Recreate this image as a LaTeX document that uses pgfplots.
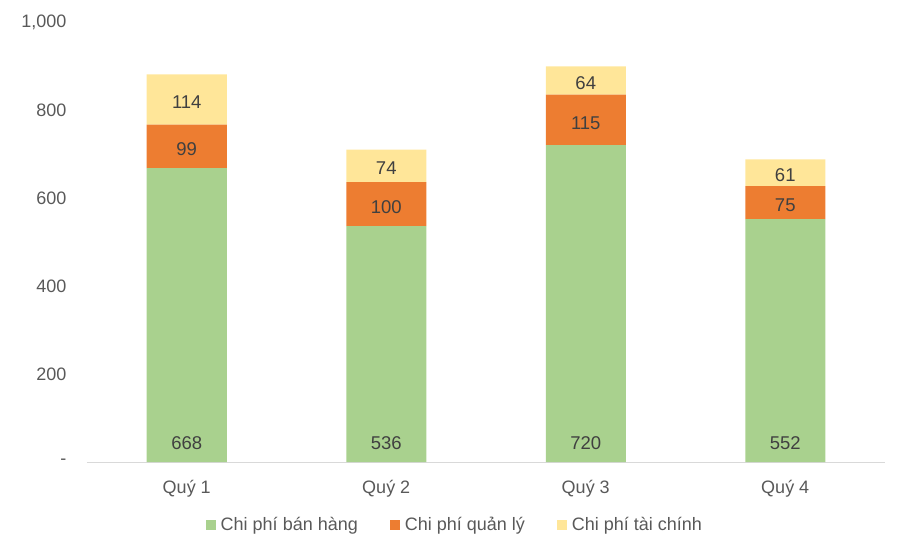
\documentclass[border=0pt]{standalone}
\usepackage{fontspec}
\setmainfont{Liberation Sans}
\usepackage{pgfplots}
\pgfplotsset{compat=1.18}
\definecolor{cgreen}{HTML}{A9D18E}
\definecolor{corange}{HTML}{ED7D31}
\definecolor{cyellow}{HTML}{FFE699}
\definecolor{ctick}{HTML}{595959}
\definecolor{clabel}{HTML}{404040}
\definecolor{caxis}{HTML}{D9D9D9}
\pgfplotsset{
  common/.style={
    at={(87pt,93pt)}, anchor=south west,
    width=798pt, height=440pt, scale only axis,
    xmin=-0.5, xmax=3.5, ymin=0, ymax=1000,
  }
}
\begin{document}
\begin{tikzpicture}
\useasboundingbox (0,0) rectangle (906pt,555pt);
\begin{axis}[
  common,
  ybar stacked, bar width=80pt,
  xtick={0,1,2,3}, xticklabels={Quý 1,Quý 2,Quý 3,Quý 4},
  ytick={0,200,400,600,800,1000}, yticklabels={-,200,400,600,800,{1,000}},
  axis x line*=bottom, axis y line*=left,
  x axis line style={draw=caxis, line width=1pt, -},
  y axis line style={draw=none},
  major tick length=0pt,
  tick style={draw=none},
  ticklabel style={font=\fontsize{18}{21.6}\selectfont, text=ctick},
  xticklabel style={yshift=-15pt},
  yticklabel style={xshift=-17pt},
  legend columns=3,
  legend cell align=left,
  legend style={at={(0.461,-0.143)}, anchor=center, draw=none, fill=none,
    font=\fontsize{18}{21.6}\selectfont, text=ctick,
    /tikz/every odd column/.append style={column sep=3pt},
    /tikz/every even column/.append style={column sep=30pt}},
  legend image code/.code={\fill[#1] (0pt,-5pt) rectangle (10pt,5pt);},
]
\addplot[fill=cgreen, draw=none] coordinates {(0,668) (1,536) (2,720) (3,552)};
\addplot[fill=corange, draw=none] coordinates {(0,99) (1,100) (2,115) (3,75)};
\addplot[fill=cyellow, draw=none] coordinates {(0,114) (1,74) (2,64) (3,61)};
\legend{Chi phí bán hàng, Chi phí quản lý, Chi phí tài chính}
\end{axis}
\begin{axis}[
  common, hide axis,
  nodes near coords, point meta=explicit symbolic,
  every node near coord/.append style={anchor=center, font=\fontsize{18.5}{22}\selectfont, text=clabel},
]
\addplot[only marks, mark=none] coordinates {
  (0,42) [668] (1,42) [536] (2,42) [720] (3,42) [552]
  (0,711) [99] (1,580) [100] (2,771) [115] (3,583) [75]
  (0,818) [114] (1,667) [74] (2,861) [64] (3,651) [61]
};
\end{axis}
\end{tikzpicture}
\end{document}
